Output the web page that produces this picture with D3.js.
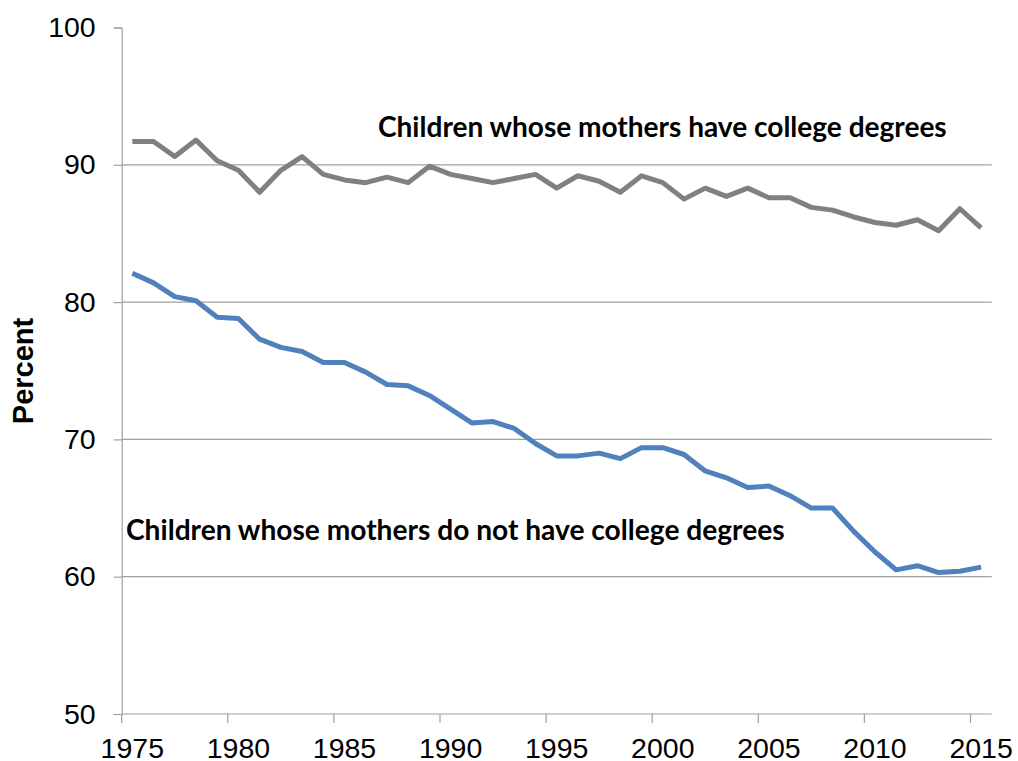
<!DOCTYPE html>
<html>
<head>
<meta charset="utf-8">
<script src="https://cdn.jsdelivr.net/npm/d3@7"></script>
<style>
  body { margin: 0; background: #fff; }
  svg { display: block; }
</style>
</head>
<body>
<svg width="1018" height="761"></svg>
<script>
// years on the category axis
var years = d3.range(1975, 2016);

// children whose mothers have college degrees
var collegeValues = [91.7, 91.7, 90.6, 91.8, 90.3, 89.6, 88.0, 89.6, 90.6, 89.3,
  88.9, 88.7, 89.1, 88.7, 89.9, 89.3, 89.0, 88.7, 89.0, 89.3,
  88.3, 89.2, 88.8, 88.0, 89.2, 88.7, 87.5, 88.3, 87.7, 88.3,
  87.6, 87.6, 86.9, 86.7, 86.2, 85.8, 85.6, 86.0, 85.2, 86.8, 85.4];

// children whose mothers do not have college degrees
var noCollegeValues = [82.1, 81.4, 80.4, 80.1, 78.9, 78.8, 77.3, 76.7, 76.4, 75.6,
  75.6, 74.9, 74.0, 73.9, 73.2, 72.2, 71.2, 71.3, 70.8, 69.7,
  68.8, 68.8, 69.0, 68.6, 69.4, 69.4, 68.9, 67.7, 67.2, 66.5,
  66.6, 65.9, 65.0, 65.0, 63.3, 61.8, 60.5, 60.8, 60.3, 60.4, 60.7];

var yTicks = [50, 60, 70, 80, 90, 100];
var xTickYears = [1975, 1980, 1985, 1990, 1995, 2000, 2005, 2010, 2015];

function drawChart() {
  var svg = d3.select("svg");
  var plotLeft = 121.7, plotRight = 991.7, plotTop = 27.5, plotBottom = 714;
  var gridColor = "#a0a0a0";
  var tickFont = "Liberation Sans, Arial, sans-serif";

  var x = d3.scaleBand().domain(years).range([plotLeft, plotRight]).padding(0);
  var y = d3.scaleLinear().domain([50, 100]).range([plotBottom, plotTop]);

  // horizontal gridlines (none at the top)
  svg.append("g").selectAll("line")
    .data(yTicks.filter(function(d) { return d > 50 && d < 100; }))
    .enter().append("line")
    .attr("x1", plotLeft).attr("x2", plotRight)
    .attr("y1", function(d) { return y(d); })
    .attr("y2", function(d) { return y(d); })
    .attr("stroke", gridColor).attr("stroke-width", 1.2);

  // y axis
  var yAxis = svg.append("g")
    .attr("transform", "translate(" + plotLeft + ",0)")
    .call(d3.axisLeft(y).tickValues(yTicks).tickSize(8).tickPadding(18));
  yAxis.select(".domain").attr("stroke", gridColor).attr("stroke-width", 1.2);
  yAxis.selectAll(".tick line").attr("stroke", gridColor).attr("stroke-width", 1.2);
  yAxis.selectAll("text")
    .attr("font-family", tickFont)
    .attr("font-size", 28.5).attr("fill", "#000");

  // x axis: ticks on category boundaries, labels on category centres
  var xg = svg.append("g").attr("transform", "translate(0," + plotBottom + ")");
  xg.append("line").attr("x1", plotLeft).attr("x2", plotRight)
    .attr("stroke", gridColor).attr("stroke-width", 1.2);
  xg.selectAll(".xt").data(xTickYears).enter().append("line")
    .attr("x1", function(d) { return x(d); })
    .attr("x2", function(d) { return x(d); })
    .attr("y1", 0).attr("y2", 9)
    .attr("stroke", gridColor).attr("stroke-width", 1.2);
  xg.selectAll(".xl").data(xTickYears).enter().append("text")
    .attr("x", function(d) { return x(d) + x.bandwidth() / 2; })
    .attr("y", 44)
    .attr("text-anchor", "middle")
    .attr("font-family", tickFont)
    .attr("font-size", 28.5).attr("fill", "#000")
    .text(function(d) { return d; });

  // y title
  svg.append("text")
    .attr("transform", "translate(33,371) rotate(-90)")
    .attr("text-anchor", "middle")
    .attr("font-family", tickFont)
    .attr("font-weight", "bold")
    .attr("font-size", 29)
    .text("Percent");

  // lines
  var line = d3.line()
    .x(function(d, i) { return x(years[i]) + x.bandwidth() / 2; })
    .y(function(d) { return y(d); });

  svg.append("path").datum(collegeValues)
    .attr("d", line).attr("fill", "none")
    .attr("stroke", "#808080").attr("stroke-width", 5)
    .attr("stroke-linejoin", "round");

  svg.append("path").datum(noCollegeValues)
    .attr("d", line).attr("fill", "none")
    .attr("stroke", "#4f81bd").attr("stroke-width", 5)
    .attr("stroke-linejoin", "round");

  // series labels, sized to fit the width they take in the original
  function seriesLabel(txt, lx, ly, width) {
    var t = svg.append("text")
      .attr("x", lx).attr("y", ly)
      .attr("font-family", "Lato, 'Open Sans', sans-serif")
      .attr("font-weight", "bold")
      .attr("font-size", 24)
      .attr("fill", "#000")
      .text(txt);
    var w = t.node().getComputedTextLength();
    t.attr("font-size", 24 * width / w);
  }
  seriesLabel("Children whose mothers have college degrees", 378, 137, 569);
  seriesLabel("Children whose mothers do not have college degrees", 126, 540, 659);
}

drawChart();
</script>
</body>
</html>
